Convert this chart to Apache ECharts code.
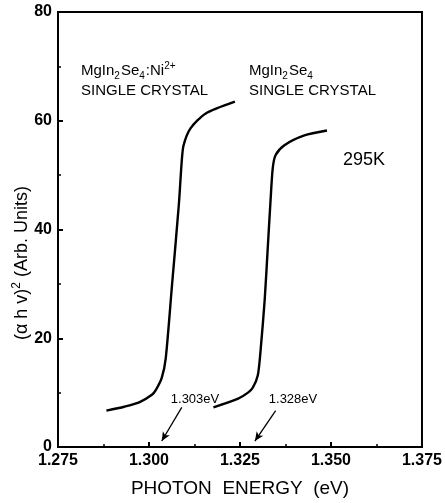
<!DOCTYPE html>
<html>
<head>
<meta charset="utf-8">
<script src="https://cdn.jsdelivr.net/npm/echarts@6/dist/echarts.min.js"></script>
<style>
  html, body { margin: 0; padding: 0; background: #fff; }
  #main { width: 445px; height: 503px; }
</style>
</head>
<body>
<div id="main"></div>
<script>
// MgIn2Se4:Ni2+ single crystal
var dopedX = [1.2883, 1.2932, 1.2973, 1.3008, 1.3019, 1.3035, 1.3046, 1.3063, 1.3082, 1.3090, 1.3095, 1.3114, 1.3155, 1.3236];
var dopedY = [6.7, 7.4, 8.2, 9.6, 10.5, 12.7, 16.3, 29.6, 44.6, 52.6, 55.5, 58.6, 61.3, 63.5];
// MgIn2Se4 single crystal
var pureX = [1.3177, 1.3245, 1.3272, 1.3285, 1.3299, 1.3307, 1.3318, 1.3326, 1.3334, 1.3340, 1.3348, 1.3372, 1.3427, 1.3489];
var pureY = [7.3, 8.9, 10.0, 10.9, 13.2, 18.1, 27.2, 36.3, 45.4, 51.3, 53.7, 55.5, 57.3, 58.2];
// arrows pointing at band gaps: [fromX, fromY, toX, toY]
var arrow1 = [1.3090, 7.3, 1.3035, 1.1];
var arrow2 = [1.3348, 6.7, 1.3291, 1.1];
var xTicks = [1.275, 1.300, 1.325, 1.350, 1.375];
var yTicks = [0, 20, 40, 60, 80];

function pairs(xs, ys) {
  return xs.map(function (x, i) { return [x, ys[i]]; });
}

var font = '"Liberation Sans", Arial, sans-serif';
var chart = echarts.init(document.getElementById('main'));

var curveStyle = { color: '#000', width: 2.4 };
var arrowLine = function (a) {
  return [{ coord: [a[0], a[1]] }, { coord: [a[2], a[3]] }];
};
var subSup = {
  sub: { fontSize: 10, verticalAlign: 'bottom', lineHeight: 13, fontFamily: font, padding: [0, 1, 0, 0] },
  sup: { fontSize: 10, verticalAlign: 'top', lineHeight: 16, fontFamily: font }
};

chart.setOption({
  animation: false,
  backgroundColor: '#fff',
  grid: {
    left: 58, right: 19, top: 12, bottom: 50,
    show: true, borderColor: '#000', borderWidth: 2
  },
  xAxis: {
    type: 'value',
    min: xTicks[0], max: xTicks[xTicks.length - 1], interval: 0.025,
    name: 'PHOTON  ENERGY  (eV)', nameLocation: 'middle', nameGap: 32,
    nameTextStyle: { fontFamily: font, fontSize: 19, color: '#000' },
    axisLine: { lineStyle: { color: '#000', width: 2 } },
    axisTick: { inside: true, length: 5, lineStyle: { color: '#000', width: 2 } },
    minorTick: { show: true, splitNumber: 2, length: 3, lineStyle: { color: '#000', width: 1.5 } },
    splitLine: { show: false },
    axisLabel: {
      color: '#000', fontFamily: font, fontSize: 16, fontWeight: 'bold', margin: 6,
      formatter: function (v) { return v.toFixed(3); }
    }
  },
  yAxis: {
    type: 'value',
    min: yTicks[0], max: yTicks[yTicks.length - 1], interval: 20,
    axisLine: { lineStyle: { color: '#000', width: 2 } },
    axisTick: { inside: true, length: 5, lineStyle: { color: '#000', width: 2 } },
    minorTick: { show: true, splitNumber: 2, length: 3, lineStyle: { color: '#000', width: 1.5 } },
    splitLine: { show: false },
    axisLabel: { color: '#000', fontFamily: font, fontSize: 16, fontWeight: 'bold', margin: 6 }
  },
  series: [
    {
      name: 'MgIn2Se4:Ni2+', type: 'line', data: pairs(dopedX, dopedY),
      showSymbol: false, smooth: 0.25, lineStyle: curveStyle
    },
    {
      name: 'MgIn2Se4', type: 'line', data: pairs(pureX, pureY),
      showSymbol: false, smooth: 0.25, lineStyle: curveStyle,
      markLine: {
        silent: true,
        symbol: ['none', 'arrow'],
        symbolSize: [6, 9],
        label: { show: false },
        lineStyle: { color: '#000', width: 1.3, type: 'solid' },
        data: [arrowLine(arrow1), arrowLine(arrow2)]
      }
    }
  ],
  graphic: [
    {
      type: 'text', x: 22, y: 263, rotation: Math.PI / 2,
      style: {
        text: '(α h v){sup|2} (Arb. Units)',
        fontFamily: font, fontSize: 18, fill: '#000', lineHeight: 22,
        align: 'center', verticalAlign: 'middle',
        rich: { sup: { fontSize: 12, verticalAlign: 'top', lineHeight: 18, fontFamily: font } }
      }
    },
    {
      type: 'text', x: 81, y: 61,
      style: {
        text: 'MgIn{sub|2}Se{sub|4}:Ni{sup|2+}\nSINGLE CRYSTAL',
        fontFamily: font, fontSize: 15, fill: '#000', lineHeight: 20,
        rich: subSup
      }
    },
    {
      type: 'text', x: 249, y: 61,
      style: {
        text: 'MgIn{sub|2}Se{sub|4}\nSINGLE CRYSTAL',
        fontFamily: font, fontSize: 15, fill: '#000', lineHeight: 20,
        rich: subSup
      }
    },
    {
      type: 'text', x: 343, y: 160,
      style: { text: '295K', fontFamily: font, fontSize: 18, fill: '#000', verticalAlign: 'middle' }
    },
    {
      type: 'text', x: 195, y: 399,
      style: { text: '1.303eV', fontFamily: font, fontSize: 13, fill: '#000', align: 'center', verticalAlign: 'middle' }
    },
    {
      type: 'text', x: 293, y: 399,
      style: { text: '1.328eV', fontFamily: font, fontSize: 13, fill: '#000', align: 'center', verticalAlign: 'middle' }
    }
  ]
});
</script>
</body>
</html>
